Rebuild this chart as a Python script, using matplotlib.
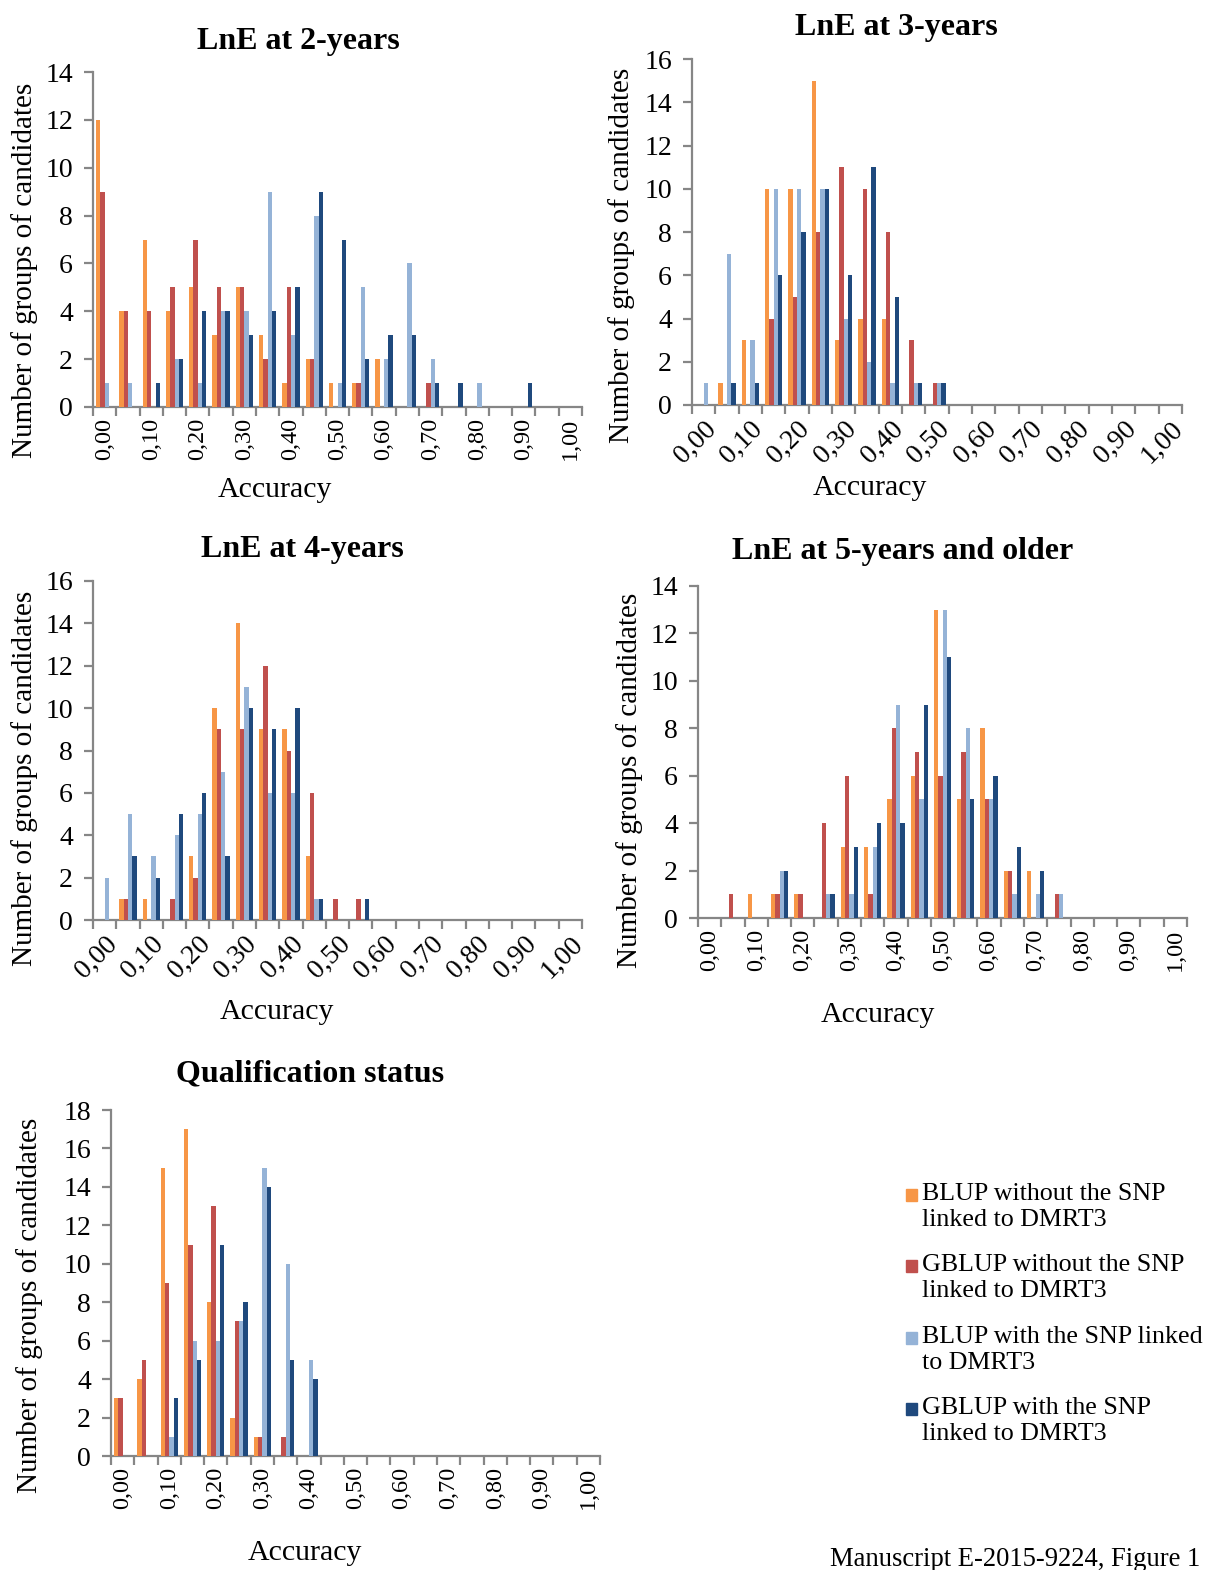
import matplotlib

matplotlib.use("Agg")
import matplotlib.pyplot as plt
import numpy as np
from matplotlib.patches import Rectangle

plt.rcParams["font.family"] = ["Liberation Serif", "DejaVu Serif"]

# categorias de acurácia (classes de 0,05) e rótulos a cada 0,10
BINS = [f"{v / 100:.2f}".replace(".", ",") for v in range(0, 101, 5)]
TICK_LABELS = BINS[::2]

SERIES = [
    "BLUP without the SNP\nlinked to DMRT3",
    "GBLUP without the SNP\nlinked to DMRT3",
    "BLUP with the SNP linked\nto DMRT3",
    "GBLUP with the SNP\nlinked to DMRT3",
]
COLORS = ["#F79646", "#C0504D", "#95B3D7", "#1F497D"]

# contagens por classe (21 classes), uma lista por série
lne2_blup = [12, 4, 7, 4, 5, 3, 5, 3, 1, 2, 1, 1, 2, 0, 0, 0, 0, 0, 0, 0, 0]
lne2_gblup = [9, 4, 4, 5, 7, 5, 5, 2, 5, 2, 0, 1, 0, 0, 1, 0, 0, 0, 0, 0, 0]
lne2_blup_snp = [1, 1, 0, 2, 1, 4, 4, 9, 3, 8, 1, 5, 2, 6, 2, 0, 1, 0, 0, 0, 0]
lne2_gblup_snp = [0, 0, 1, 2, 4, 4, 3, 4, 5, 9, 7, 2, 3, 3, 1, 1, 0, 0, 1, 0, 0]

lne3_blup = [0, 1, 3, 10, 10, 15, 3, 4, 4, 0, 0, 0, 0, 0, 0, 0, 0, 0, 0, 0, 0]
lne3_gblup = [0, 0, 0, 4, 5, 8, 11, 10, 8, 3, 1, 0, 0, 0, 0, 0, 0, 0, 0, 0, 0]
lne3_blup_snp = [1, 7, 3, 10, 10, 10, 4, 2, 1, 1, 1, 0, 0, 0, 0, 0, 0, 0, 0, 0, 0]
lne3_gblup_snp = [0, 1, 1, 6, 8, 10, 6, 11, 5, 1, 1, 0, 0, 0, 0, 0, 0, 0, 0, 0, 0]

lne4_blup = [0, 1, 1, 0, 3, 10, 14, 9, 9, 3, 0, 0, 0, 0, 0, 0, 0, 0, 0, 0, 0]
lne4_gblup = [0, 1, 0, 1, 2, 9, 9, 12, 8, 6, 1, 1, 0, 0, 0, 0, 0, 0, 0, 0, 0]
lne4_blup_snp = [2, 5, 3, 4, 5, 7, 11, 6, 6, 1, 0, 0, 0, 0, 0, 0, 0, 0, 0, 0, 0]
lne4_gblup_snp = [0, 3, 2, 5, 6, 3, 10, 9, 10, 1, 0, 1, 0, 0, 0, 0, 0, 0, 0, 0, 0]

lne5_blup = [0, 0, 1, 1, 1, 0, 3, 3, 5, 6, 13, 5, 8, 2, 2, 0, 0, 0, 0, 0, 0]
lne5_gblup = [0, 1, 0, 1, 1, 4, 6, 1, 8, 7, 6, 7, 5, 2, 0, 1, 0, 0, 0, 0, 0]
lne5_blup_snp = [0, 0, 0, 2, 0, 1, 1, 3, 9, 5, 13, 8, 5, 1, 1, 1, 0, 0, 0, 0, 0]
lne5_gblup_snp = [0, 0, 0, 2, 0, 1, 3, 4, 4, 9, 11, 5, 6, 3, 2, 0, 0, 0, 0, 0, 0]

qual_blup = [3, 4, 15, 17, 8, 2, 1, 0, 0, 0, 0, 0, 0, 0, 0, 0, 0, 0, 0, 0, 0]
qual_gblup = [3, 5, 9, 11, 13, 7, 1, 1, 0, 0, 0, 0, 0, 0, 0, 0, 0, 0, 0, 0, 0]
qual_blup_snp = [0, 0, 1, 6, 6, 7, 15, 10, 5, 0, 0, 0, 0, 0, 0, 0, 0, 0, 0, 0, 0]
qual_gblup_snp = [0, 0, 3, 5, 11, 8, 14, 5, 4, 0, 0, 0, 0, 0, 0, 0, 0, 0, 0, 0, 0]

W, H = 1205, 1570
AXIS = "#868686"

# (título, séries, ymax, rotação, caixa em px [esq, dir, topo, base], título xy, ylabel xy, xlabel xy)
PANELS = [
    ("LnE at 2-years", [lne2_blup, lne2_gblup, lne2_blup_snp, lne2_gblup_snp], 14, 90,
     (93, 582, 72, 407), (298, 42), (25, 270), (275, 490)),
    ("LnE at 3-years", [lne3_blup, lne3_gblup, lne3_blup_snp, lne3_gblup_snp], 16, 45,
     (692, 1182, 59, 405), (896, 27), (622, 255), (870, 488)),
    ("LnE at 4-years", [lne4_blup, lne4_gblup, lne4_blup_snp, lne4_gblup_snp], 16, 45,
     (93, 582, 581, 920), (302, 549), (25, 778), (277, 1012)),
    ("LnE at 5-years and older", [lne5_blup, lne5_gblup, lne5_blup_snp, lne5_gblup_snp], 14, 90,
     (698, 1187, 586, 918), (903, 551), (630, 780), (878, 1015)),
    ("Qualification status", [qual_blup, qual_gblup, qual_blup_snp, qual_gblup_snp], 18, 90,
     (111, 600, 1110, 1456), (310, 1074), (30, 1305), (305, 1553)),
]


def fx(px):
    return px / W


def fy(py):
    return 1 - py / H


fig = plt.figure(figsize=(W / 100, H / 100), dpi=100)
fig.patch.set_facecolor("white")

x = np.arange(len(BINS))
bw = 0.185

for title, series, ymax, rot, box, tpos, ypos, xpos in PANELS:
    l, r, t, b = box
    ax = fig.add_axes([fx(l), fy(b), fx(r - l), (b - t) / H])
    for i, (vals, col) in enumerate(zip(series, COLORS)):
        ax.bar(x + (i - 1.5) * bw, vals, width=bw, color=col, linewidth=0, zorder=3)
    ax.set_xlim(-0.5, len(BINS) - 0.5)
    ax.set_ylim(0, ymax)
    ax.set_yticks(range(0, ymax + 1, 2))
    for s in ("top", "right"):
        ax.spines[s].set_visible(False)
    for s in ("left", "bottom"):
        ax.spines[s].set_color(AXIS)
        ax.spines[s].set_linewidth(1.6)
    # marcas nas fronteiras das classes, rótulos no centro a cada 2 classes
    ax.set_xticks(np.arange(-0.5, len(BINS)), labels=[])
    ax.set_xticks(x[::2], labels=TICK_LABELS, minor=True)
    ax.tick_params(axis="x", which="major", length=6.5, width=1.6, color=AXIS)
    ax.tick_params(axis="y", length=6.5, width=1.6, color=AXIS, labelsize=20, pad=8)
    if rot == 90:
        ax.tick_params(axis="x", which="minor", length=0, labelsize=17.5, pad=8)
        for lab in ax.get_xticklabels(minor=True):
            lab.set_rotation(90)
            lab.set_ha("center")
            lab.set_va("top")
    else:
        ax.tick_params(axis="x", which="minor", length=0, labelsize=20, pad=8)
        for lab in ax.get_xticklabels(minor=True):
            lab.set_rotation(45)
            lab.set_ha("right")
            lab.set_va("top")
            lab.set_rotation_mode("anchor")

    fig.text(fx(tpos[0]), fy(tpos[1]), title, ha="center", va="center",
             fontsize=23, fontweight="bold")
    fig.text(fx(ypos[0]), fy(ypos[1]), "Number of groups of candidates", rotation=90,
             ha="center", va="center", fontsize=21)
    fig.text(fx(xpos[0]), fy(xpos[1]), "Accuracy", ha="center", va="center", fontsize=21.5)

# legenda desenhada à mão: quadrado alinhado com a 1a linha do rótulo
leg_y = [1195, 1266, 1338, 1409]
for lab, col, yy in zip(SERIES, COLORS, leg_y):
    fig.patches.append(Rectangle((fx(906), fy(yy + 6)), 11 / W, 12 / H, color=col,
                                 transform=fig.transFigure, figure=fig))
    fig.text(fx(922), fy(yy - 12), lab, ha="left", va="top", fontsize=18.7,
             linespacing=1.25)

fig.text(fx(830), fy(1566), "Manuscript E-2015-9224, Figure 1", ha="left", va="baseline",
         fontsize=19.2)

fig.savefig("out.png", dpi=100, facecolor="white")
